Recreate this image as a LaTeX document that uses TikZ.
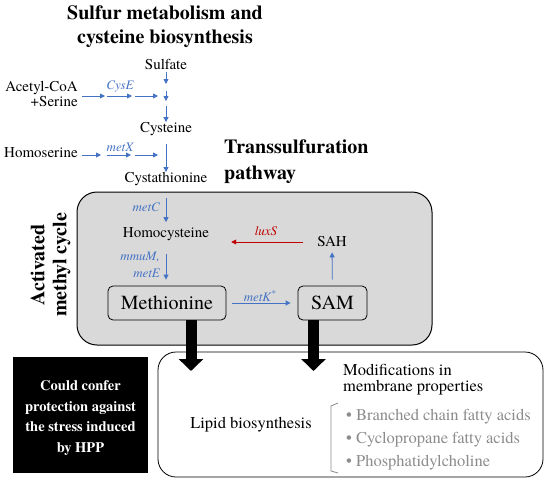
\documentclass[tikz,border=0pt]{standalone}
\usepackage{fontspec}
\setmainfont{texgyretermes}[Extension=.otf, UprightFont=*-regular, BoldFont=*-bold,
  ItalicFont=*-italic, BoldItalicFont=*-bolditalic]
\usetikzlibrary{positioning}
\usetikzlibrary{arrows.meta}

\definecolor{genblue}{HTML}{4472C4}
\definecolor{luxred}{HTML}{C00000}
\definecolor{boxgray}{HTML}{D9D9D9}
\definecolor{itemgray}{HTML}{8C8C8C}

\begin{document}
\begin{tikzpicture}[x=1pt,y=-1pt,
  txt/.style={font=\fontsize{15}{13}\selectfont, inner sep=0pt},
  gene/.style={font=\fontsize{13}{17}\selectfont\itshape, text=genblue, inner sep=0pt},
  head/.style={font=\fontsize{20}{24}\selectfont\bfseries, align=center, inner sep=0pt},
  bot/.style={font=\fontsize{16.5}{16}\selectfont, inner sep=0pt},
  item/.style={bot, text=itemgray, anchor=west},
  metbox/.style={draw, line width=0.8pt, rounded corners=5pt, font=\fontsize{20}{24}\selectfont, minimum height=34pt},
  flow/.style={draw=genblue, line width=0.8pt, -{Triangle[length=5pt,width=5pt]}},
  bigarrow/.style={draw=black, line width=11pt, -{Triangle[length=12pt,width=24pt]}}]
  \useasboundingbox (0,0) rectangle (550,483);

  \node[head] (title) at (165,26.5) {Sulfur metabolism and\\cysteine biosynthesis};

  \node[txt] (sulf) at (166,64) {Sulfate};
  \node[txt, align=right, anchor=east] (acoa) at (78,94) {Acetyl-CoA\\+Serine};
  \node[txt] (cys) at (166,129) {Cysteine};
  \node[txt, anchor=east] (hser) at (78,153) {Homoserine};
  \node[txt] (cysta) at (166,179) {Cystathionine};
  \node[head, align=left, anchor=west, font=\fontsize{20}{26}\selectfont\bfseries] (trans) at (224,162) {Transsulfuration\\pathway};

  \node[gene] (cyse) at (120,87) {CysE};
  \node[gene] (metx) at (120,147) {metX};

  \coordinate (s1) at (166,84);
  \coordinate (s2) at (166,91);
  \coordinate (s3) at (166,101);
  \coordinate (s4) at (166,106);
  \draw[flow, shorten <=3pt] (sulf) -- (s1);
  \draw[flow] (s2) -- (s3);
  \draw[flow] (s4) -- (cys);

  \coordinate (a0) at (82,96);
  \coordinate (a1) at (105,96);
  \coordinate (a2) at (107,96);
  \coordinate (a3) at (132,96);
  \coordinate (a4) at (135,96);
  \coordinate (a5) at (158,96);
  \draw[flow] (a0) -- (a1);
  \draw[flow] (a2) -- (a3);
  \draw[flow] (a4) -- (a5);

  \coordinate (h0) at (82,155);
  \coordinate (h1) at (101,155);
  \coordinate (h2) at (107,155);
  \coordinate (h3) at (131,155);
  \coordinate (h4) at (135,155);
  \coordinate (h5) at (158,155);
  \draw[flow] (h0) -- (h1);
  \draw[flow] (h2) -- (h3);
  \draw[flow] (h4) -- (h5);

  \draw[flow, shorten <=8pt] (cys) -- (cysta);

  % activated methyl cycle
  \draw[line width=1pt, fill=boxgray, rounded corners=20pt] (77,192) rectangle (432,345);
  \node[head, rotate=90, font=\fontsize{20}{22}\selectfont\bfseries] (amc) at (50.5,265) {Activated\\methyl cycle};

  \node[txt] (hcys) at (166,234) {Homocysteine};
  \node[txt] (sah) at (332,242) {SAH};
  \node[metbox, minimum width=118pt] (meth) at (167,303) {Methionine};
  \node[metbox, minimum width=69pt] (sam) at (332.5,303) {SAM};

  \node[gene, anchor=east] (metc) at (160,207) {metC};
  \node[gene, anchor=east, align=right] (mmum) at (160,265) {mmuM,\\metE};
  \node[gene] (metk) at (260,296) {metK\textsuperscript{*}};
  \node[gene, text=luxred] (luxs) at (266,231) {luxS};

  \draw[flow, shorten <=12pt, shorten >=5pt] (cysta) -- (hcys);
  \draw[flow, shorten <=13pt, shorten >=6pt] (hcys.south) -- (hcys.south |- meth.north);
  \draw[flow, shorten <=6pt, shorten >=7pt] (meth) -- (sam);
  \draw[flow, shorten <=6pt, shorten >=5pt] (sam) -- (sah);
  \draw[flow, draw=luxred, shorten <=14pt, shorten >=22pt] (sah.west) -- (sah.west -| hcys.east);

  % outcome
  \draw[line width=0.8pt, fill=white, rounded corners=18pt] (158,352) rectangle (543,477);
  \fill[black] (13,357) rectangle (148,473);
  \node[text=white, align=center, inner sep=0pt,
    font=\fontsize{14.5}{20.5}\selectfont\bfseries] (hpp) at (80.5,418)
    {Could confer\\protection against\\the stress induced\\by HPP};

  \coordinate (ta) at (191,371);
  \coordinate (tb) at (313.5,371);
  \draw[bigarrow] (meth.south -| ta) -- (ta);
  \draw[bigarrow] (sam.south -| tb) -- (tb);

  \node[bot] (lipid) at (251,425) {Lipid biosynthesis};
  \node[bot, anchor=west, align=left] (modif) at (343,380) {Modifications in\\membrane properties};
  \draw[itemgray, line width=0.8pt] (338,403) -- (331,406) -- (331,471) -- (338,473);
  \node[item] (bcfa) at (346,417) {\textbullet\ Branched chain fatty acids};
  \node[item] (cfa) at (346,439.5) {\textbullet\ Cyclopropane fatty acids};
  \node[item] (pc) at (346,462.5) {\textbullet\ Phosphatidylcholine};
\end{tikzpicture}
\end{document}
